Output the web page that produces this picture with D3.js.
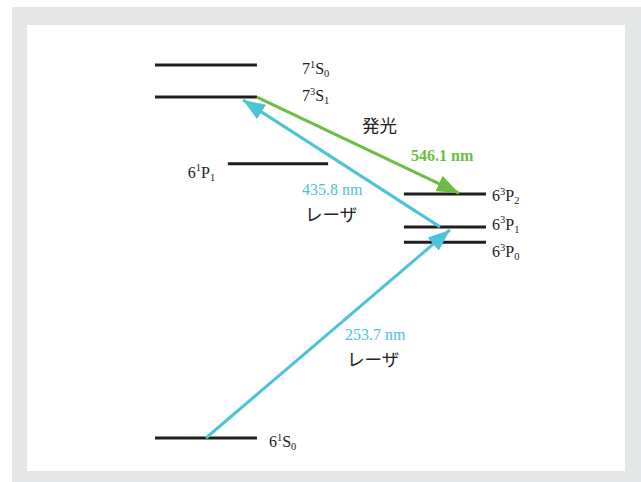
<!DOCTYPE html>
<html>
<head>
<meta charset="utf-8">
<script src="https://cdn.jsdelivr.net/npm/d3@7/dist/d3.min.js"></script>
<style>
  html, body { margin: 0; padding: 0; background: #ffffff; }
  svg { display: block; }
</style>
</head>
<body>
<script>
// Mercury energy-level diagram (schematic, not to scale)

// Term symbols: [principal, multiplicity, letter, J]
const levelNames = [
  ["6", "1", "S", "0"],
  ["6", "3", "P", "0"],
  ["6", "3", "P", "1"],
  ["6", "3", "P", "2"],
  ["6", "1", "P", "1"],
  ["7", "3", "S", "1"],
  ["7", "1", "S", "0"]
];
// schematic energy of each level (diagram units)
const levelEnergy = [0, 5.25, 5.66, 6.54, 7.35, 9.14, 10.0];
// horizontal span of each level (diagram units)
const levelStart = [0, 7.52, 7.52, 7.52, 2.2, 0, 0];
const levelEnd   = [3.08, 10, 10, 10, 5.23, 3.08, 3.08];
// which side the term label goes on
const labelSide  = ["right", "right", "right", "right", "left", "right", "right"];

// Transitions: wavelength labels, from/to level index, horizontal anchors
const transLabel = ["253.7 nm", "435.8 nm", "546.1 nm"];
const transFrom  = [0, 2, 5];
const transTo    = [2, 5, 3];
const transX0    = [1.54, 8.61, 3.08];
const transX1    = [8.91, 2.66, 9.18];
const transKind  = ["laser", "laser", "emission"];
const kindText   = { laser: "レーザ", emission: "発光" };

const W = 641, H = 482;
const svg = d3.select("body").append("svg").attr("width", W).attr("height", H);

// frame
svg.append("rect").attr("x", 12).attr("y", 7).attr("width", W - 12).attr("height", H - 7).attr("fill", "#e5e6e8");
svg.append("rect").attr("x", 27).attr("y", 25).attr("width", 598).attr("height", 446).attr("fill", "#ffffff");

const x = d3.scaleLinear().domain([0, 10]).range([155, 486]);
const y = d3.scaleLinear().domain([0, 10]).range([438, 65]);

const colors = { laser: "#4cc3d6", emission: "#6cbd45" };
const serif = "'Liberation Serif', 'Times New Roman', serif";
const cjk = "'Noto Sans CJK JP', sans-serif";

// arrowheads
const defs = svg.append("defs");
Object.entries(colors).forEach(([k, c]) => {
  defs.append("marker")
    .attr("id", "head-" + k)
    .attr("viewBox", "0 0 22 17")
    .attr("refX", 22).attr("refY", 8.5)
    .attr("markerWidth", 22).attr("markerHeight", 17)
    .attr("markerUnits", "userSpaceOnUse")
    .attr("orient", "auto")
    .append("path").attr("d", "M0,0 L22,8.5 L0,17 Z").attr("fill", c);
});

// levels
const levels = levelNames.map((n, i) => ({
  name: n, e: levelEnergy[i], x0: levelStart[i], x1: levelEnd[i], side: labelSide[i]
}));

svg.append("g").selectAll("line").data(levels).join("line")
  .attr("x1", d => x(d.x0)).attr("x2", d => x(d.x1))
  .attr("y1", d => y(d.e)).attr("y2", d => y(d.e))
  .attr("stroke", "#1e1e1e").attr("stroke-width", 3);

// transitions
const trans = transLabel.map((l, i) => ({
  label: l, kind: transKind[i],
  x0: transX0[i], y0: levelEnergy[transFrom[i]],
  x1: transX1[i], y1: levelEnergy[transTo[i]]
}));

svg.append("g").selectAll("line").data(trans).join("line")
  .attr("x1", d => x(d.x0)).attr("y1", d => y(d.y0))
  .attr("x2", d => x(d.x1)).attr("y2", d => y(d.y1) + (d.y1 > d.y0 ? 3 : -1))
  .attr("stroke", d => colors[d.kind]).attr("stroke-width", 3)
  .attr("marker-end", d => "url(#head-" + d.kind + ")");

// term labels
const termPos = {
  right: (d, i) => x(d.x1) + (i === 0 ? 12 : (d.x1 === 10 ? 6 : 45)),
  left: (d) => x(d.x0) - 40
};
const termBase = [9, 15, 3, 7, 14, 4, 9];
const lbl = svg.append("g").attr("font-family", serif).attr("font-size", 16).attr("fill", "#222");
levels.forEach((d, i) => {
  const t = lbl.append("text")
    .attr("x", termPos[d.side](d, i))
    .attr("y", y(d.e) + termBase[i]);
  t.append("tspan").text(d.name[0]);
  t.append("tspan").attr("font-size", 10.5).attr("dy", -6.5).text(d.name[1]);
  t.append("tspan").attr("dy", 6.5).text(d.name[2]);
  t.append("tspan").attr("font-size", 10.5).attr("dy", 3).text(d.name[3]);
});

// transition labels
const wlPos = [[345, 340], [302, 195], [411, 161]];
const kindPos = [[347, 366], [305, 221], [362, 132]];
trans.forEach((d, i) => {
  svg.append("text")
    .attr("x", wlPos[i][0]).attr("y", wlPos[i][1])
    .attr("font-family", serif).attr("font-size", 16)
    .attr("font-weight", d.kind === "emission" ? "bold" : "normal")
    .attr("fill", colors[d.kind])
    .text(d.label);
  svg.append("text")
    .attr("x", kindPos[i][0]).attr("y", kindPos[i][1])
    .attr("font-family", cjk).attr("font-size", 17.5)
    .attr("fill", "#222")
    .text(kindText[d.kind]);
});
</script>
</body>
</html>
